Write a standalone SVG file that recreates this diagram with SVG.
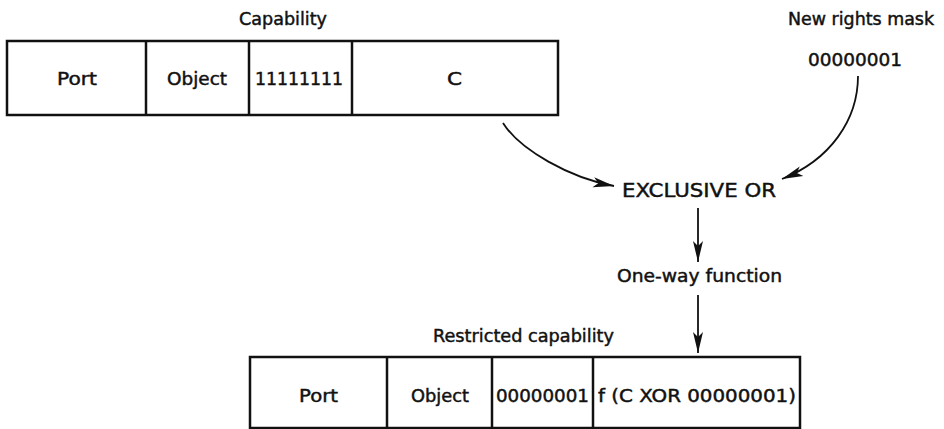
<svg xmlns="http://www.w3.org/2000/svg" width="944" height="429" viewBox="0 0 944 429">
<defs>
<style>
.t{font-family:"DejaVu Sans","Liberation Sans",sans-serif;font-size:17px;fill:#111;stroke:#111;stroke-width:0.45;}
.b{fill:none;stroke:#111;stroke-width:2.5;}
.c{fill:none;stroke:#111;stroke-width:1.8;}
</style>
<marker id="ah" viewBox="-22 -6 24 12" refX="0" refY="0" markerWidth="24" markerHeight="12" markerUnits="userSpaceOnUse" orient="auto">
<path d="M0,0 L-21,-5 L-16,0 L-21,5 Z" fill="#111"/>
</marker>
</defs>
<rect width="944" height="429" fill="#fff"/>

<g id="capability">
<text class="t" x="239" y="25" textLength="88" lengthAdjust="spacingAndGlyphs">Capability</text>
<rect class="b" x="7" y="41" width="551" height="74"/>
<line class="b" x1="146" y1="41" x2="146" y2="115"/>
<line class="b" x1="249" y1="41" x2="249" y2="115"/>
<line class="b" x1="352" y1="41" x2="352" y2="115"/>
<text class="t" x="57" y="85" textLength="40" lengthAdjust="spacingAndGlyphs">Port</text>
<text class="t" x="167" y="85" textLength="60" lengthAdjust="spacingAndGlyphs">Object</text>
<text class="t" x="255" y="85" textLength="88" lengthAdjust="spacingAndGlyphs">11111111</text>
<text class="t" x="447" y="85" textLength="15" lengthAdjust="spacingAndGlyphs">C</text>
</g>

<g id="mask">
<text class="t" x="788" y="25" textLength="146" lengthAdjust="spacingAndGlyphs">New rights mask</text>
<text class="t" x="808" y="66" textLength="94" lengthAdjust="spacingAndGlyphs">00000001</text>
</g>

<g id="xor">
<text class="t" x="622" y="197" style="font-size:19px" textLength="154" lengthAdjust="spacingAndGlyphs">EXCLUSIVE OR</text>
</g>

<g id="oneway">
<text class="t" x="617" y="282" textLength="165" lengthAdjust="spacingAndGlyphs">One-way function</text>
</g>

<g id="restricted">
<text class="t" x="433" y="342" textLength="181" lengthAdjust="spacingAndGlyphs">Restricted capability</text>
<rect class="b" x="250" y="357" width="550" height="71"/>
<line class="b" x1="387" y1="357" x2="387" y2="428"/>
<line class="b" x1="492" y1="357" x2="492" y2="428"/>
<line class="b" x1="593" y1="357" x2="593" y2="428"/>
<text class="t" x="299" y="402" textLength="39" lengthAdjust="spacingAndGlyphs">Port</text>
<text class="t" x="411" y="402" textLength="58" lengthAdjust="spacingAndGlyphs">Object</text>
<text class="t" x="496" y="402" textLength="93" lengthAdjust="spacingAndGlyphs">00000001</text>
<text class="t" x="598" y="402" textLength="198" lengthAdjust="spacingAndGlyphs">f (C XOR 00000001)</text>
</g>

<g id="connectors">
<path class="c" d="M503,123 C520,150 570,178 614,186" marker-end="url(#ah)"/>
<path class="c" d="M858,76 C858,120 830,160 782,179" marker-end="url(#ah)"/>
<line class="c" x1="698" y1="208" x2="698" y2="262" marker-end="url(#ah)"/>
<line class="c" x1="698" y1="295" x2="698" y2="353" marker-end="url(#ah)"/>
</g>
</svg>
